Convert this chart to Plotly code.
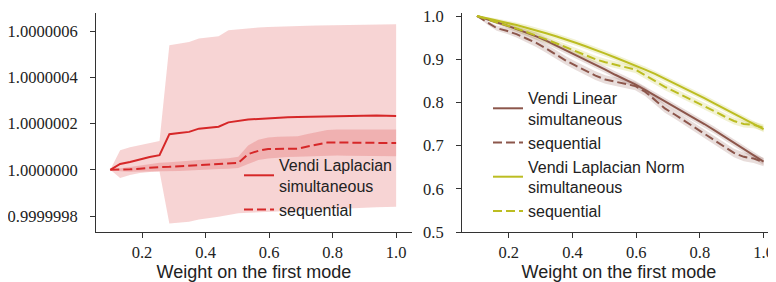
import plotly.graph_objects as go

# ---------------- data ----------------
weights = [0.1, 0.131, 0.162, 0.193, 0.224, 0.255, 0.286, 0.317, 0.348, 0.379,
           0.41, 0.441, 0.472, 0.503, 0.534, 0.566, 0.597, 0.628, 0.659, 0.69,
           0.721, 0.752, 0.783, 0.814, 0.845, 0.876, 0.907, 0.938, 0.969, 1.0]

# Left panel: deviation from 1.0, in units of 1e-7
lap_sim_mean = [0, 0.25, 0.34, 0.45, 0.55, 0.63, 1.54, 1.59, 1.64, 1.78,
                1.82, 1.86, 2.05, 2.12, 2.17, 2.20, 2.23, 2.25, 2.27, 2.28,
                2.29, 2.30, 2.31, 2.32, 2.33, 2.36, 2.36, 2.35, 2.34, 2.33]
lap_sim_low = [0, -0.35, -0.22, -0.14, -0.10, -0.07, -2.32, -2.30, -2.25, -2.15,
               -2.10, -2.03, -1.95, -1.88, -1.86, -1.84, -1.81, -1.79, -1.77, -1.75,
               -1.73, -1.71, -1.70, -1.68, -1.67, -1.65, -1.64, -1.62, -1.61, -1.60]
lap_sim_high = [0, 0.85, 0.98, 1.07, 1.16, 1.25, 5.39, 5.45, 5.53, 5.68,
                5.72, 5.78, 6.03, 6.08, 6.11, 6.15, 6.18, 6.20, 6.21, 6.22,
                6.23, 6.24, 6.25, 6.26, 6.27, 6.28, 6.29, 6.29, 6.29, 6.29]
lap_seq_mean = [0, 0.0, 0.02, 0.05, 0.09, 0.12, 0.13, 0.15, 0.19, 0.21,
                0.23, 0.25, 0.27, 0.30, 0.68, 0.82, 0.90, 0.91, 0.91, 0.91,
                1.01, 1.11, 1.18, 1.18, 1.17, 1.17, 1.17, 1.16, 1.16, 1.16]
lap_seq_low = [0, -0.06, -0.08, -0.08, -0.07, -0.06, -0.06, -0.05, -0.03, 0.0,
               0.01, 0.03, 0.05, 0.08, 0.25, 0.42, 0.49, 0.53, 0.55, 0.56,
               0.58, 0.60, 0.62, 0.62, 0.61, 0.61, 0.60, 0.60, 0.59, 0.59]
lap_seq_high = [0, 0.06, 0.12, 0.18, 0.25, 0.30, 0.33, 0.35, 0.39, 0.42,
                0.45, 0.47, 0.50, 0.56, 1.05, 1.30, 1.40, 1.43, 1.43, 1.45,
                1.55, 1.65, 1.72, 1.74, 1.74, 1.74, 1.74, 1.74, 1.74, 1.74]

# Right panel
lin_sim = [1.0, 0.993, 0.986, 0.978, 0.970, 0.962, 0.953, 0.943, 0.932, 0.921,
           0.910, 0.898, 0.887, 0.876, 0.864, 0.853, 0.842, 0.829, 0.816, 0.803,
           0.790, 0.777, 0.764, 0.750, 0.736, 0.721, 0.707, 0.692, 0.678, 0.663]
lin_seq = [1.0, 0.985, 0.972, 0.966, 0.958, 0.948, 0.938, 0.925, 0.910, 0.897,
           0.885, 0.873, 0.862, 0.853, 0.848, 0.843, 0.838, 0.825, 0.805, 0.786,
           0.772, 0.757, 0.741, 0.727, 0.713, 0.698, 0.683, 0.674, 0.670, 0.662]
norm_sim = [1.0, 0.995, 0.990, 0.985, 0.979, 0.973, 0.967, 0.960, 0.953, 0.946,
            0.938, 0.930, 0.922, 0.913, 0.904, 0.895, 0.886, 0.876, 0.866, 0.855,
            0.844, 0.833, 0.822, 0.810, 0.798, 0.786, 0.774, 0.762, 0.750, 0.738]
norm_seq = [1.0, 0.993, 0.986, 0.979, 0.971, 0.963, 0.955, 0.946, 0.937, 0.928,
            0.918, 0.909, 0.900, 0.893, 0.887, 0.882, 0.876, 0.863, 0.849, 0.836,
            0.825, 0.814, 0.803, 0.792, 0.780, 0.768, 0.757, 0.750, 0.748, 0.741]
lin_sim_err = [0, 0.003, 0.005, 0.006, 0.007, 0.007, 0.008, 0.008, 0.008, 0.008,
               0.008, 0.008, 0.008, 0.008, 0.008, 0.008, 0.008, 0.008, 0.008, 0.008,
               0.008, 0.008, 0.008, 0.008, 0.008, 0.008, 0.008, 0.008, 0.008, 0.008]
lin_seq_err = [0, 0.004, 0.006, 0.007, 0.008, 0.009, 0.010, 0.010, 0.010, 0.010,
               0.010, 0.010, 0.010, 0.010, 0.010, 0.010, 0.010, 0.010, 0.010, 0.010,
               0.010, 0.010, 0.010, 0.010, 0.010, 0.010, 0.010, 0.010, 0.010, 0.010]
norm_sim_err = [0, 0.003, 0.004, 0.005, 0.006, 0.007, 0.007, 0.007, 0.007, 0.007,
                0.007, 0.007, 0.007, 0.007, 0.007, 0.007, 0.007, 0.007, 0.007, 0.007,
                0.007, 0.007, 0.007, 0.007, 0.007, 0.007, 0.007, 0.007, 0.007, 0.007]
norm_seq_err = [0, 0.003, 0.004, 0.005, 0.006, 0.007, 0.008, 0.008, 0.008, 0.008,
                0.008, 0.008, 0.008, 0.008, 0.008, 0.008, 0.008, 0.008, 0.008, 0.008,
                0.008, 0.008, 0.008, 0.008, 0.008, 0.008, 0.008, 0.008, 0.008, 0.008]

left_yticks = [0.9999998, 1.0, 1.0000002, 1.0000004, 1.0000006]
right_yticks = [0.5, 0.6, 0.7, 0.8, 0.9, 1.0]
xticks = [0.2, 0.4, 0.6, 0.8, 1.0]

RED = "#d62728"
BROWN = "#8c564b"
OLIVE = "#bcbd22"
SCALE = 1e-7


def absval(dev):
    return [1.0 + d * SCALE for d in dev]


fig = go.Figure()


def band(x, lo, hi, color, xa, ya):
    fig.add_trace(go.Scatter(x=x, y=lo, mode="lines", line=dict(width=0),
                             showlegend=False, hoverinfo="skip", xaxis=xa, yaxis=ya))
    fig.add_trace(go.Scatter(x=x, y=hi, mode="lines", line=dict(width=0),
                             fill="tonexty", fillcolor=color,
                             showlegend=False, hoverinfo="skip", xaxis=xa, yaxis=ya))


# left bands
band(weights, absval(lap_sim_low), absval(lap_sim_high), "rgba(214,39,40,0.2)", "x", "y")
band(weights, absval(lap_seq_low), absval(lap_seq_high), "rgba(214,39,40,0.2)", "x", "y")
# right bands
for m, e, c in [(lin_sim, lin_sim_err, "rgba(140,86,75,0.2)"),
                (lin_seq, lin_seq_err, "rgba(140,86,75,0.2)"),
                (norm_sim, norm_sim_err, "rgba(188,189,34,0.2)"),
                (norm_seq, norm_seq_err, "rgba(188,189,34,0.2)")]:
    band(weights, [a - b for a, b in zip(m, e)], [a + b for a, b in zip(m, e)], c, "x2", "y2")

DASH = "9px,4px"
fig.add_trace(go.Scatter(x=weights, y=absval(lap_sim_mean), mode="lines",
                         line=dict(color=RED, width=2),
                         name="Vendi Laplacian<br>simultaneous", legend="legend"))
fig.add_trace(go.Scatter(x=weights, y=absval(lap_seq_mean), mode="lines",
                         line=dict(color=RED, width=2, dash=DASH),
                         name="sequential", legend="legend"))

fig.add_trace(go.Scatter(x=weights, y=lin_sim, mode="lines", xaxis="x2", yaxis="y2",
                         line=dict(color=BROWN, width=2),
                         name="Vendi Linear<br>simultaneous", legend="legend2"))
fig.add_trace(go.Scatter(x=weights, y=lin_seq, mode="lines", xaxis="x2", yaxis="y2",
                         line=dict(color=BROWN, width=2, dash=DASH),
                         name="sequential", legend="legend2"))
fig.add_trace(go.Scatter(x=weights, y=norm_sim, mode="lines", xaxis="x2", yaxis="y2",
                         line=dict(color=OLIVE, width=2),
                         name="Vendi Laplacian Norm<br>simultaneous", legend="legend2"))
fig.add_trace(go.Scatter(x=weights, y=norm_seq, mode="lines", xaxis="x2", yaxis="y2",
                         line=dict(color=OLIVE, width=2, dash=DASH),
                         name="sequential", legend="legend2"))

SERIF = "Liberation Serif, Times New Roman, serif"
SANS = "Liberation Sans, Arial, sans-serif"
tickfont = dict(family=SERIF, size=16.5, color="#222")
titlefont = dict(family=SANS, size=18, color="#222")
axis_common = dict(showline=True, linecolor="#333", linewidth=1, ticks="outside",
                   ticklen=5, tickwidth=1, tickcolor="#333", showgrid=False,
                   zeroline=False, tickfont=tickfont, mirror=False, automargin=False,
                   ticklabeloverflow="allow")

# The page body adds an 8px offset; figure coords = page coords - 8
OFF = 8
W, H = 776 - OFF, 282 - OFF
ML, MT = 96 - OFF, 13 - OFF
PB = 232 - OFF            # plot bottom in figure px
MR, MB = 0, H - PB
PW = W - ML - MR
PH = H - MT - MB


def px_x(page_x):
    return (page_x - OFF - ML) / PW


def px_y(page_y):
    return (MT + PH - (page_y - OFF)) / PH


legend_common = dict(xanchor="left", yanchor="top", bgcolor="rgba(0,0,0,0)",
                     font=dict(family=SANS, size=16, color="#222"),
                     tracegroupgap=0, traceorder="normal")

fig.update_layout(
    width=W, height=H,
    margin=dict(l=ML, r=MR, t=MT, b=MB),
    paper_bgcolor="white", plot_bgcolor="white",
    xaxis=dict(domain=[0, px_x(412)], range=[0.055, 1.05], tickvals=xticks,
               tickformat=".1f", anchor="y",
               title=dict(text="Weight on the first mode", font=titlefont, standoff=11),
               **axis_common),
    yaxis=dict(domain=[0, 1], range=[1 - 2.69e-7, 1 + 6.78e-7], tickvals=left_yticks,
               tickformat=".7f", anchor="x", ticklabelstandoff=9, **axis_common),
    xaxis2=dict(domain=[px_x(462), 1], range=[0.053, 1.039], tickvals=xticks,
                tickformat=".1f", anchor="y2",
                title=dict(text="Weight on the first mode", font=titlefont, standoff=11),
                **axis_common),
    yaxis2=dict(domain=[0, 1], range=[0.5, 1.007], tickvals=right_yticks,
                tickformat=".1f", anchor="x2", ticklabelstandoff=9, **axis_common),
    legend=dict(x=px_x(239), y=px_y(148), **legend_common),
    legend2=dict(x=px_x(488), y=px_y(81), **legend_common),
    showlegend=True,
)

fig.write_html("out.html")
